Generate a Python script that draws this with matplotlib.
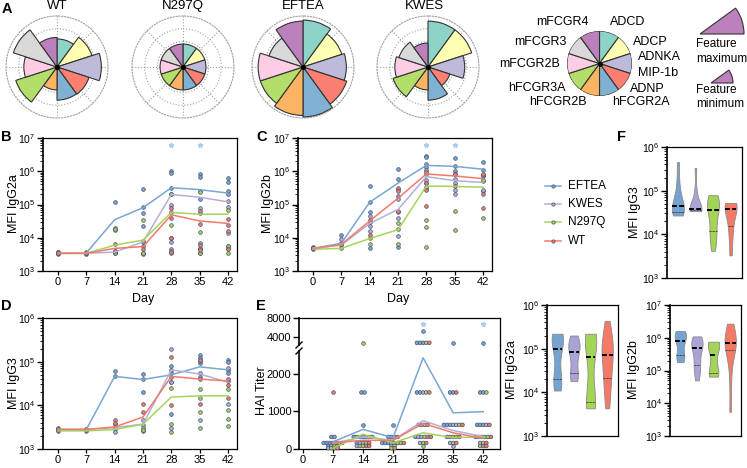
import numpy as np
import matplotlib
matplotlib.use("Agg")
import matplotlib.pyplot as plt
from matplotlib import cbook, mlab
from matplotlib.lines import Line2D
from matplotlib.patches import Wedge
from matplotlib.ticker import FixedLocator, FuncFormatter, LogLocator, NullFormatter, NullLocator

plt.rcParams["font.family"] = ["Liberation Sans", "DejaVu Sans"]
plt.rcParams["mathtext.fontset"] = "custom"
plt.rcParams["mathtext.rm"] = "Liberation Sans"
plt.rcParams["axes.linewidth"] = 0.9

W, H = 747, 468

# ---- panel A: feature polar charts (fraction of feature maximum)
features = ["ADCD", "ADCP", "ADNKA\nMIP-1b", "ADNP", "hFCGR2A",
            "hFCGR2B", "hFCGR3A", "mFCGR2B", "mFCGR3", "mFCGR4"]
feature_colors = ["#8dd3c7", "#ffffb3", "#bebada", "#fb8072", "#80b1d3",
                  "#fdb462", "#b3de69", "#fccde5", "#d9d9d9", "#bc80bd"]
radar_names = ["WT", "N297Q", "EFTEA", "KWES"]
radar_wt = [0.55, 0.72, 0.87, 0.66, 0.65, 0.45, 0.85, 0.65, 0.90, 0.58]
radar_n297q = [0.45, 0.45, 0.45, 0.45, 0.45, 0.45, 0.45, 0.45, 0.45, 0.45]
radar_eftea = [0.92, 0.80, 0.85, 0.90, 0.98, 0.95, 0.88, 0.88, 0.70, 0.90]
radar_kwes = [0.90, 0.90, 0.72, 0.45, 0.65, 0.45, 0.72, 0.65, 0.60, 0.47]

# ---- time courses
days = [0, 7, 14, 21, 28, 35, 42]
groups = ["EFTEA", "KWES", "N297Q", "WT"]
group_colors = ["#79a6d2", "#b3aedb", "#a6d45a", "#f27a6a"]
violin_colors = ["#74a3d2", "#aaa3d8", "#a4d455", "#f47a66"]
point_edge = "#46506e"

# panel B, MFI IgG2a
b_mean_eftea = [3.4e3, 3.5e3, 3.5e4, 8.0e4, 3.2e5, 2.8e5, 2.2e5]
b_mean_kwes = [3.4e3, 3.4e3, 3.7e3, 7.5e3, 2.0e5, 1.65e5, 1.2e5]
b_mean_n297q = [3.4e3, 3.4e3, 6.0e3, 8.5e3, 5.8e4, 5.1e4, 5.1e4]
b_mean_wt = [3.4e3, 3.4e3, 4.8e3, 5.4e3, 4.9e4, 3.2e4, 2.7e4]
b_pts_eftea = [[3.3e3, 3.6e3, 3.8e3], [3.3e3, 3.5e3, 3.7e3], [1.15e5, 1.9e4, 1.7e4, 3.8e3],
               [2.9e5, 8.5e4, 5.4e4, 2.2e4], [1.0e6, 8.7e5, 3.1e5, 2.0e5, 9.5e3],
               [8.1e5, 6.9e5, 2.5e5, 1.5e5, 4.5e3], [6.1e5, 4.6e5, 2.5e5, 2.1e5, 5.5e3]]
b_pts_kwes = [[3.4e3, 3.7e3], [3.4e3, 3.6e3], [4.0e3, 3.4e3], [7.5e3, 3.6e3, 3.3e3],
              [1.0e5, 6.0e4, 7.5e3, 4.5e3], [8.0e4, 5.5e4, 7.0e3, 3.5e3], [1.3e5, 8.5e4, 1.4e4, 4.8e3]]
b_pts_n297q = [[3.5e3], [3.4e3, 3.6e3], [1.8e4, 3.5e3], [3.5e4, 8.0e3, 3.4e3],
               [2.1e5, 2.4e4, 4.0e3, 3.5e3], [2.4e5, 1.5e4, 5.0e3, 3.5e3], [7.0e4, 5.5e3, 3.4e3]]
b_pts_wt = [[3.6e3], [3.5e3], [6.5e3, 4.0e3], [5.5e3, 4.5e3], [8.0e4, 4.0e4, 1.0e4, 3.8e3],
            [6.5e4, 2.6e4, 6.0e3, 4.2e3], [3.6e4, 2.5e4, 1.6e4, 4.5e3]]
b_star_days = [28, 35]
b_star_vals = [6.0e6, 6.0e6]

# panel C, MFI IgG2b
c_mean_eftea = [4.8e3, 6.8e3, 1.17e5, 4.4e5, 1.5e6, 1.4e6, 1.15e6]
c_mean_kwes = [4.8e3, 6.0e3, 2.7e4, 7.1e4, 6.9e5, 5.2e5, 4.6e5]
c_mean_n297q = [4.5e3, 4.8e3, 9.5e3, 1.75e4, 3.6e5, 3.5e5, 3.3e5]
c_mean_wt = [4.7e3, 6.3e3, 3.2e4, 1.55e5, 8.3e5, 7.2e5, 6.0e5]
c_pts_eftea = [[4.6e3, 5.1e3], [1.2e4, 7.0e3], [3.6e5, 1.2e5, 6.0e4, 4.8e3],
               [1.2e6, 6.0e5, 3.0e5, 1.8e5, 5.2e3], [2.9e6, 2.6e6, 1.6e6, 1.3e6, 4.3e5],
               [2.5e6, 1.4e6, 1.0e6, 8.5e5], [1.9e6, 1.1e6, 7.0e5, 2.6e5]]
c_pts_kwes = [[4.8e3], [9.0e3, 6.0e3], [4.5e4, 2.2e4, 1.6e4], [1.5e5, 6.0e4, 4.0e4, 1.1e4],
              [1.1e6, 8.0e5, 5.5e5, 3.0e5], [6.0e5, 4.5e5, 2.8e5, 2.0e5], [7.5e5, 5.0e5, 2.7e5]]
c_pts_n297q = [[4.9e3], [5.0e3], [9.5e3, 6.5e3], [2.8e4, 1.8e4, 6.5e3],
               [3.3e5, 3.4e4, 2.1e4, 5.3e3], [6.2e4, 1.7e4], [5.5e5, 3.9e4]]
c_pts_wt = [[5.0e3], [6.5e3], [3.5e4, 3.0e4, 1.2e4], [3.2e5, 2.6e5, 6.5e4],
            [9.5e5, 4.5e5, 2.8e5, 9.0e4], [8.5e5, 3.5e5], [8.0e5, 2.1e5, 8.0e4]]
c_star_days = [28, 35]
c_star_vals = [6.3e6, 6.3e6]

# panel D, MFI IgG3
d_mean_eftea = [2.8e3, 2.8e3, 4.6e4, 3.9e4, 5.0e4, 7.6e4, 6.5e4]
d_mean_kwes = [2.8e3, 2.8e3, 3.1e3, 3.7e3, 6.5e4, 5.2e4, 3.4e4]
d_mean_n297q = [2.6e3, 2.6e3, 2.8e3, 3.7e3, 1.55e4, 1.65e4, 1.65e4]
d_mean_wt = [2.8e3, 2.8e3, 3.2e3, 5.4e3, 4.6e4, 4.0e4, 3.6e4]
d_pts_eftea = [[2.6e3, 3.0e3], [2.7e3, 2.9e3], [6.2e4, 4.6e4, 2.8e3], [5.2e4, 4.0e4, 2.0e4, 2.6e3],
               [8.0e4, 5.4e4, 3.4e4, 6.5e3], [1.4e5, 1.2e5, 9.5e4, 4.5e4], [1.1e5, 1.0e5, 6.5e4, 5.5e4]]
d_pts_kwes = [[2.8e3], [2.8e3], [3.8e3, 3.2e3, 2.5e3], [4.5e3, 3.5e3], [1.9e5, 6.5e4, 3.5e4, 3.0e3],
              [1.05e5, 5.5e4, 4.5e3], [7.0e4, 3.6e4, 1.1e4]]
d_pts_n297q = [[2.7e3], [2.6e3], [3.0e3], [3.0e3, 2.7e3], [2.5e4, 3.8e3, 2.5e3],
               [2.4e4, 1.5e4, 7.0e3, 3.0e3], [2.4e4, 8.0e3, 4.8e3, 3.4e3]]
d_pts_wt = [[2.9e3], [2.7e3], [4.5e3, 4.0e3], [1.1e4, 7.0e3], [1.3e5, 4.5e4, 1.0e4],
            [1.1e5, 4.0e4, 1.1e4], [4.0e4, 2.9e4, 1.5e4]]

# panel E, HAI titer
hai_days = [7, 14, 21, 28, 35, 42]
e_mean_eftea = [190, 520, 300, 2420, 960, 990]
e_mean_kwes = [150, 320, 230, 750, 490, 330]
e_mean_n297q = [20, 390, 165, 430, 300, 320]
e_mean_wt = [165, 230, 230, 680, 430, 280]
e_pts_eftea = [[320, 320, 160, 160, 160, 80], [1500, 1500, 640, 320, 320, 320, 160],
               [640, 320, 320, 160, 160, 160], [5000, 3200, 3200, 3200, 1500, 1500, 640, 320],
               [3200, 1500, 1500, 640, 640, 640, 320], [3200, 1500, 1500, 640, 640, 640, 320]]
e_pts_kwes = [[160, 160, 80, 20], [320, 320, 160, 160, 80], [320, 160, 160, 80],
              [1500, 640, 320, 320, 160], [640, 640, 320, 160, 80], [640, 320, 320, 160]]
e_pts_n297q = [[160, 80, 20, 20], [3200, 320, 160, 80, 80], [160, 160, 80, 20],
               [3200, 1500, 640, 320, 160, 80], [640, 320, 320, 160], [1500, 320, 320, 160, 80]]
e_pts_wt = [[1500, 160, 80, 20], [320, 160, 80, 80], [320, 160, 20],
            [3200, 1500, 640, 320, 320, 160], [1500, 640, 320, 160], [640, 320, 160, 80, 80]]
e_star_days = [28, 42]
e_star_vals = [6400, 6400]

# ---- violins (per mouse values)
f_igg3 = [[2.7e4, 2.9e4, 3.2e4, 3.5e4, 4.2e4, 4.8e4, 5.6e4, 7.9e4, 1.6e5, 4.5e5],
          [3.4e4, 3.5e4, 3.55e4, 3.6e4, 3.7e4, 3.9e4, 4.2e4, 5.6e4, 1.0e5, 3.3e5],
          [4.2e3, 7.9e3, 1.1e4, 1.6e4, 3.2e4, 4.0e4, 4.5e4, 5.6e4, 6.6e4, 7.9e4],
          [3.3e3, 7.9e3, 1.4e4, 2.2e4, 3.5e4, 4.2e4, 4.6e4, 4.8e4, 5.0e4, 5.2e4]]
g_igg2a = [[1.1e4, 1.6e4, 1.9e4, 2.4e4, 7.9e4, 1.26e5, 1.6e5, 1.9e5, 2.1e5, 2.2e5],
           [1.8e4, 2.2e4, 2.5e4, 4.0e4, 7.1e4, 1.0e5, 1.1e5, 1.26e5, 1.4e5, 2.0e5],
           [4.3e3, 5.0e3, 5.8e3, 7.1e3, 3.2e4, 1.26e5, 1.4e5, 1.6e5, 1.8e5, 2.2e5],
           [4.3e3, 1.0e4, 2.0e4, 2.8e4, 5.6e4, 8.9e4, 1.0e5, 1.26e5, 2.0e5, 4.3e5]]
g_igg2b = [[1.8e5, 2.2e5, 2.8e5, 3.5e5, 7.1e5, 8.9e5, 1.1e6, 1.26e6, 1.4e6, 1.6e6],
           [5.0e4, 1.0e5, 1.4e5, 1.9e5, 4.5e5, 5.6e5, 6.3e5, 7.1e5, 8.9e5, 1.1e6],
           [6.5e4, 7.6e4, 8.3e4, 9.3e4, 2.0e5, 4.6e5, 5.6e5, 6.3e5, 7.1e5, 7.6e5],
           [5.5e3, 6.3e4, 4.2e5, 4.8e5, 6.3e5, 7.9e5, 8.9e5, 1.0e6, 1.1e6, 2.7e6]]


def px_rect(left, top, right, bottom):
    return [left / W, 1 - bottom / H, (right - left) / W, (bottom - top) / H]


def log_label(v, pos):
    return r"10$^{%d}$" % int(round(np.log10(v)))


def radar(rect, values, legend=False):
    ax = fig.add_axes(rect, projection="polar")
    ax.set_theta_zero_location("N")
    ax.set_theta_direction(-1)
    theta = np.deg2rad(np.arange(len(values)) * 36)
    ax.bar(theta, values, width=np.deg2rad(36), align="edge", color=feature_colors,
           edgecolor="#333333", linewidth=0.8, zorder=3)
    ax.plot([0], [0], "o", color="black", ms=2.6, zorder=5)
    ax.set_ylim(0, 1)
    if legend:
        ax.axis("off")
        return ax
    ax.set_axisbelow(True)
    ax.set_yticks([0.25, 0.5, 0.75])
    ax.set_yticklabels([])
    ax.set_xticks(np.deg2rad(np.arange(0, 360, 45)))
    ax.set_xticklabels([])
    ax.grid(True, color="#a0a0a0", linestyle=":", linewidth=0.8)
    ax.spines["polar"].set_linestyle(":")
    ax.spines["polar"].set_color("#a0a0a0")
    ax.spines["polar"].set_linewidth(0.8)
    return ax


def time_axes(rect, ylim, means, points, stars=None):
    ax = fig.add_axes(rect)
    for col, mean, pts in zip(group_colors, means, points):
        for d, vals in zip(days, pts):
            ax.scatter([d] * len(vals), vals, s=7, c=col, edgecolors=point_edge,
                       linewidths=0.5, zorder=3)
        ax.plot(days, mean, color=col, lw=1.1, zorder=4)
    if stars is not None:
        ax.plot(stars[0], stars[1], "*", color="#a9cdee", ms=3.5, zorder=4)
    ax.set_yscale("log")
    ax.set_ylim(*ylim)
    ax.set_xlim(-3.7, 44.2)
    ax.set_xticks(days)
    ax.yaxis.set_major_locator(LogLocator(base=10, numticks=12))
    ax.yaxis.set_minor_locator(LogLocator(base=10, subs=np.arange(2, 10), numticks=60))
    ax.yaxis.set_major_formatter(FuncFormatter(log_label))
    ax.yaxis.set_minor_formatter(NullFormatter())
    ax.tick_params(axis="y", which="major", length=4, width=1, labelsize=7.5, pad=1.5)
    ax.tick_params(axis="y", which="minor", length=2.2, width=0.6)
    ax.tick_params(axis="x", length=3, width=0.9, labelsize=8, pad=1.5)
    ax.spines["left"].set_linewidth(1.2)
    return ax


def violin_axes(rect, data, ylo, yhi):
    ax = fig.add_axes(rect)
    logs = [np.log10(d) for d in data]
    stats = cbook.violin_stats(logs, lambda X, c: mlab.GaussianKDE(X, 0.55).evaluate(c))
    parts = ax.violin(stats, positions=range(4), widths=0.68, showmeans=False,
                      showextrema=False, showmedians=False)
    for body, col in zip(parts["bodies"], violin_colors):
        body.set_facecolor(col)
        body.set_edgecolor("#8a8a8a")
        body.set_linewidth(0.6)
        body.set_alpha(1)
    for i, (st, lg) in enumerate(zip(stats, logs)):
        for q, lw, col in [(50, 1.4, "black"), (25, 0.6, "#333333")]:
            y = np.percentile(lg, q)
            hw = np.interp(y, st["coords"], st["vals"]) / st["vals"].max() * 0.34
            ax.plot([i - hw, i + hw], [y, y], color=col, lw=lw, ls=(0, (2.5, 1.2)), zorder=4)
    ax.set_xlim(-0.62, 3.65)
    ax.set_ylim(ylo, yhi)
    ax.set_xticks([])
    ax.yaxis.set_major_locator(FixedLocator(list(range(ylo, yhi + 1))))
    ax.yaxis.set_minor_locator(FixedLocator([np.log10(k * 10.0 ** n)
                                             for n in range(ylo, yhi) for k in range(2, 10)]))
    ax.yaxis.set_major_formatter(FuncFormatter(lambda v, p: r"10$^{%d}$" % int(round(v))))
    ax.tick_params(axis="y", which="major", length=4, width=1, labelsize=7.5, pad=1.5)
    ax.tick_params(axis="y", which="minor", length=2.2, width=0.6)
    ax.spines["left"].set_linewidth(1.2)
    return ax


fig = plt.figure(figsize=(W / 100, H / 100), dpi=100)

# panel A
radar_values = [radar_wt, radar_n297q, radar_eftea, radar_kwes]
radar_cx = [57, 183, 303, 428]
for vals, cx in zip(radar_values, radar_cx):
    radar(px_rect(cx - 51, 16, cx + 51, 118), vals)
radar(px_rect(567, 31, 632, 96), [1.0] * 10, legend=True)

# panels B, C, D
time_axes(px_rect(43, 138, 237, 271), (1e3, 1e7),
          [b_mean_eftea, b_mean_kwes, b_mean_n297q, b_mean_wt],
          [b_pts_eftea, b_pts_kwes, b_pts_n297q, b_pts_wt], (b_star_days, b_star_vals))
time_axes(px_rect(298, 138, 492, 271), (1e3, 1e7),
          [c_mean_eftea, c_mean_kwes, c_mean_n297q, c_mean_wt],
          [c_pts_eftea, c_pts_kwes, c_pts_n297q, c_pts_wt], (c_star_days, c_star_vals))
time_axes(px_rect(43, 318, 237, 449), (1e3, 1e6),
          [d_mean_eftea, d_mean_kwes, d_mean_n297q, d_mean_wt],
          [d_pts_eftea, d_pts_kwes, d_pts_n297q, d_pts_wt])

# panel E, broken axis
ax_up = fig.add_axes(px_rect(299, 318, 500, 345))
ax_lo = fig.add_axes(px_rect(299, 351, 500, 449))
split = 2950
spacing = 0.72
for di, d in enumerate(hai_days):
    rows = {}
    for col, pts in zip(group_colors, [e_pts_eftea, e_pts_kwes, e_pts_n297q, e_pts_wt]):
        for v in pts[di]:
            rows.setdefault(v, []).append(col)
    for v, cols in rows.items():
        xs = d + (np.arange(len(cols)) - (len(cols) - 1) / 2) * spacing
        target = ax_up if v >= split else ax_lo
        target.scatter(xs, [v] * len(cols), s=7, c=cols, edgecolors=point_edge,
                       linewidths=0.5, zorder=3, clip_on=False)
for col, mean in zip(group_colors, [e_mean_eftea, e_mean_kwes, e_mean_n297q, e_mean_wt]):
    ax_lo.plot(hai_days, mean, color=col, lw=1.1, zorder=4)
ax_up.plot(e_star_days, e_star_vals, "*", color="#a9cdee", ms=3.5, zorder=4)
for ax in (ax_up, ax_lo):
    ax.set_xlim(-0.9, 45.9)
    ax.tick_params(axis="y", length=4, width=1, labelsize=8, pad=1.5)
    ax.spines["left"].set_linewidth(1.2)
ax_up.set_yscale("log", base=2)
ax_up.set_ylim(split, 8000)
ax_up.yaxis.set_major_locator(FixedLocator([4000, 8000]))
ax_up.yaxis.set_major_formatter(FuncFormatter(lambda v, p: "%d" % v))
ax_up.yaxis.set_minor_locator(NullLocator())
ax_up.set_xticks([])
ax_up.spines["bottom"].set_visible(False)
ax_lo.set_ylim(0, 2600)
ax_lo.set_yticks([0, 1000, 2000])
ax_lo.set_xticks(days)
ax_lo.tick_params(axis="x", length=3, width=0.9, labelsize=8, pad=1.5)
ax_lo.spines["top"].set_visible(False)

# violins
violin_axes(px_rect(667, 147, 742, 278), f_igg3, 3, 6)
violin_axes(px_rect(547, 305, 618, 436), g_igg2a, 3, 6)
violin_axes(px_rect(670, 305, 741, 436), g_igg2b, 3, 7)

# overlay for labels and annotations
ov = fig.add_axes([0, 0, 1, 1])
ov.set_xlim(0, W)
ov.set_ylim(H, 0)
ov.axis("off")

for name, cx in zip(radar_names, [57, 183, 303, 424]):
    ov.text(cx, 6, name, ha="center", va="center", fontsize=9.5)

legend_labels = [(features[0], 610, 22, "left"), (features[1], 633, 42, "left"),
                 ("ADNKA", 638, 57, "left"), ("MIP-1b", 638, 73, "left"),
                 (features[3], 630, 89, "left"), (features[4], 612, 102, "left"),
                 (features[5], 529, 102, "left"), (features[6], 566, 88, "right"),
                 (features[7], 560, 64, "right"), (features[8], 567, 42, "right"),
                 (features[9], 589, 22, "right")]
for text, x, y, ha in legend_labels:
    ov.text(x, y, text, ha=ha, va="center", fontsize=9)

ov.add_patch(Wedge((700, 34), 44, -36, 0, facecolor="#bc80bd", edgecolor="#333333", lw=0.8))
ov.add_patch(Wedge((711, 83), 22, -36, 0, facecolor="#bc80bd", edgecolor="#333333", lw=0.8))
ov.text(696, 44, "Feature", ha="left", va="center", fontsize=8.5)
ov.text(696, 59, "maximum", ha="left", va="center", fontsize=8.5)
ov.text(696, 90, "Feature", ha="left", va="center", fontsize=8.5)
ov.text(696, 104, "minimum", ha="left", va="center", fontsize=8.5)

for letter, x, y in [("A", 7, 9), ("B", 6, 137), ("C", 262, 137),
                     ("D", 6, 306), ("E", 261, 306), ("F", 622, 137)]:
    ov.text(x, y, letter, ha="center", va="center", fontsize=10.5, fontweight="bold")

for text, x, y in [("MFI IgG2a", 13.5, 204), ("MFI IgG2b", 268.5, 204), ("MFI IgG3", 13.5, 383),
                   ("HAI Titer", 262, 391), ("MFI IgG3", 635, 212), ("MFI IgG2a", 512, 370),
                   ("MFI IgG2b", 634, 370)]:
    ov.text(x, y, text, ha="center", va="center", rotation=90, fontsize=9)

ov.text(143, 299, "Day", ha="center", va="center", fontsize=9)
ov.text(398, 299, "Day", ha="center", va="center", fontsize=9)

for col, name, y in zip(group_colors, groups, [186, 204, 222, 241]):
    ov.add_line(Line2D([545, 561], [y, y], color=col, lw=1.1))
    ov.plot([553], [y], "o", ms=2.4, color=col, mec=point_edge, mew=0.5)
    ov.text(568, y, name, ha="left", va="center", fontsize=8.5)

# broken axis marks and the right spine across the gap
ov.add_line(Line2D([500, 500], [345, 351], color="black", lw=0.9))
ov.add_line(Line2D([296, 302], [348, 342], color="black", lw=1.0))
ov.add_line(Line2D([296, 302], [354, 348], color="black", lw=1.0))

fig.savefig("out.png", dpi=100)
